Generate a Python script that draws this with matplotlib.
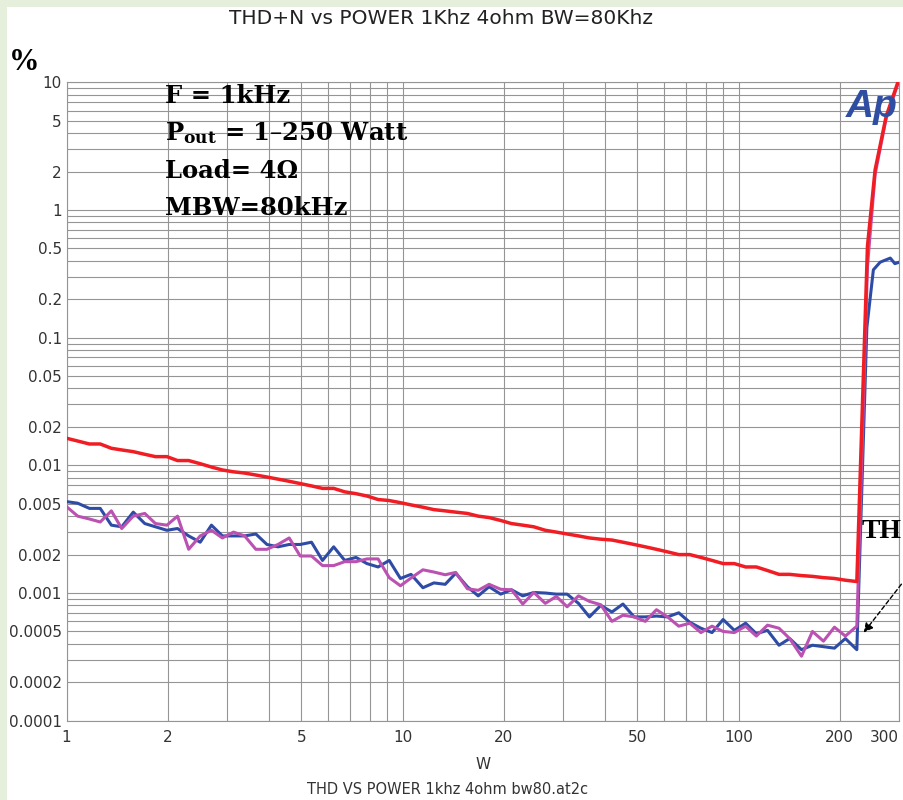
import matplotlib.pyplot as plt
from matplotlib.patches import Rectangle
from matplotlib.ticker import FixedLocator, NullFormatter

# SWEEP POINTS (W) - shared by all three traces up to the clip point

watts = [1.00, 1.08, 1.17, 1.26, 1.36, 1.46, 1.58, 1.71, 1.84, 1.99,
         2.14, 2.31, 2.50, 2.70, 2.91, 3.14, 3.39, 3.66, 3.95, 4.26,
         4.60, 4.96, 5.36, 5.78, 6.24, 6.73, 7.27, 7.84, 8.46, 9.13,
         9.86, 10.6, 11.5, 12.4, 13.4, 14.4, 15.6, 16.8, 18.1, 19.6,
         21.1, 22.8, 24.6, 26.6, 28.7, 30.9, 33.4, 36.0, 38.9, 42.0,
         45.3, 48.9, 52.8, 57.0, 61.5, 66.4, 71.6, 77.3, 83.4, 90.0,
         97.2, 105, 113, 122, 132, 142, 154, 166, 179, 193,
         208, 225]

# THD+N in %

red = [0.0163, 0.0155, 0.0147, 0.0147, 0.0136, 0.0132, 0.0128, 0.0122, 0.0117, 0.0117,
       0.0109, 0.0109, 0.0103, 0.0097, 0.0092, 0.0089, 0.0087, 0.0084, 0.0081, 0.0078,
       0.0075, 0.0072, 0.0069, 0.0066, 0.0066, 0.0062, 0.0060, 0.00575, 0.0054, 0.0053,
       0.0051, 0.0049, 0.0047, 0.0045, 0.0044, 0.0043, 0.0042, 0.0040, 0.0039, 0.0037,
       0.0035, 0.0034, 0.0033, 0.0031, 0.0030, 0.0029, 0.0028, 0.0027, 0.00264, 0.0026,
       0.0025, 0.0024, 0.0023, 0.0022, 0.0021, 0.0020, 0.0020, 0.0019, 0.0018, 0.0017,
       0.0017, 0.0016, 0.0016, 0.0015, 0.0014, 0.0014, 0.00137, 0.00135, 0.00132, 0.0013,
       0.00126, 0.00123]

blue = [0.0052, 0.00505, 0.0046, 0.0046, 0.0034, 0.0033, 0.0043, 0.0035, 0.0033, 0.0031,
        0.0032, 0.0028, 0.0025, 0.0034, 0.0028, 0.0028, 0.0028, 0.0029, 0.0024, 0.0023,
        0.0024, 0.0024, 0.0025, 0.0018, 0.0023, 0.0018, 0.0019, 0.0017, 0.0016, 0.0018,
        0.0013, 0.0014, 0.0011, 0.0012, 0.00117, 0.00143, 0.00112, 0.00095, 0.00112, 0.00098,
        0.00106, 0.00095, 0.00101, 0.0010, 0.00098, 0.00098, 0.00083, 0.00065, 0.0008, 0.00071,
        0.00082, 0.00065, 0.00065, 0.00066, 0.00065, 0.0007, 0.00059, 0.00053, 0.00049, 0.00062,
        0.00051, 0.00058, 0.00048, 0.00051, 0.00039, 0.00044, 0.00036, 0.00039, 0.00038, 0.00037,
        0.00044, 0.00036]

magenta = [0.00475, 0.0040, 0.0038, 0.0036, 0.0044, 0.0032, 0.0040, 0.0042, 0.0035, 0.0034,
           0.0040, 0.0022, 0.0028, 0.0031, 0.0027, 0.0030, 0.0028, 0.0022, 0.0022, 0.0024,
           0.0027, 0.00195, 0.00195, 0.00164, 0.00164, 0.00176, 0.00176, 0.00185, 0.00185, 0.00132,
           0.00114, 0.00131, 0.00152, 0.00146, 0.00139, 0.00145, 0.00108, 0.00105, 0.00117, 0.00107,
           0.00106, 0.00082, 0.00101, 0.00083, 0.00094, 0.00078, 0.00095, 0.00086, 0.00081, 0.00060,
           0.00067, 0.00065, 0.00060, 0.00074, 0.00065, 0.00055, 0.00058, 0.00049, 0.00055, 0.00050,
           0.00049, 0.00055, 0.00046, 0.00056, 0.00053, 0.00044, 0.00032, 0.00050, 0.00042, 0.00054,
           0.00046, 0.00055]

# clipping region (above ~225 W)

red_tail_w = [242, 255, 275, 300]
red_tail = [0.52, 2.06, 5.4, 10.5]

blue_tail_w = [241, 252, 264, 283, 292, 301]
blue_tail = [0.12, 0.34, 0.39, 0.42, 0.38, 0.39]

magenta_tail_w = [242, 255, 275, 300]
magenta_tail = [0.36, 1.9, 5.2, 10.2]

x_ticks = [1, 2, 5, 10, 20, 50, 100, 200, 300]
x_minor = [3, 4, 6, 7, 8, 9, 30, 40, 60, 70, 80, 90]
y_ticks = [10, 5, 2, 1, 0.5, 0.2, 0.1, 0.05, 0.02, 0.01,
           0.005, 0.002, 0.001, 0.0005, 0.0002, 0.0001]
y_labels = ['10', '5', '2', '1', '0.5', '0.2', '0.1', '0.05', '0.02', '0.01',
            '0.005', '0.002', '0.001', '0.0005', '0.0002', '0.0001']

W, H = 904, 800

fig = plt.figure(figsize=(W/100, H/100), dpi=100, facecolor='#e6eedc')
fig.add_artist(Rectangle((7/W, 0), 1, 1 - 7/H, transform=fig.transFigure,
                         facecolor='white', edgecolor='none', zorder=-10))

ax = fig.add_axes([66.5/W, 1 - 720.7/H, (899.3 - 66.5)/W, (720.7 - 82.3)/H])
ax.set_xscale('log')
ax.set_yscale('log')
ax.set_xlim(1, 301)
ax.set_ylim(1e-4, 10)

#TRACES

ax.plot(watts + blue_tail_w, blue + blue_tail, color='#2e4ca6', lw=2.2, zorder=3)
ax.plot(watts + magenta_tail_w, magenta + magenta_tail, color='#bb52b2', lw=2.2, zorder=4)
ax.plot(watts + red_tail_w, red + red_tail, color='#f01e24', lw=2.5, zorder=5)

#GRID / TICKS

ax.xaxis.set_major_locator(FixedLocator(x_ticks))
ax.xaxis.set_minor_locator(FixedLocator(x_minor))
ax.xaxis.set_minor_formatter(NullFormatter())
ax.set_xticklabels([str(v) for v in x_ticks])
ax.get_xticklabels()[-1].set_horizontalalignment('right')

minor_y = [m * 10.0**e for e in range(-4, 1) for m in (3, 4, 6, 7, 8, 9)]
ax.yaxis.set_major_locator(FixedLocator(y_ticks))
ax.yaxis.set_minor_locator(FixedLocator(minor_y))
ax.yaxis.set_minor_formatter(NullFormatter())
ax.set_yticklabels(y_labels)

ax.grid(True, which='both', color='#959595', lw=0.8)
ax.tick_params(which='both', length=0, labelsize=11, colors='#333333')
ax.tick_params(axis='y', pad=3.5)
ax.tick_params(axis='x', pad=7)
for s in ax.spines.values():
    s.set_color('#959595')
    s.set_linewidth(0.8)

ax.set_xlabel('W', fontsize=11, color='#333333', labelpad=8)

#TEXTS

fig.text(441/W, 1 - 18/H, 'THD+N vs POWER 1Khz 4ohm BW=80Khz',
         ha='center', va='center', fontsize=14.5, color='#222222')
fig.text(448/W, 1 - 789/H, 'THD VS POWER 1khz 4ohm bw80.at2c',
         ha='center', va='center', fontsize=10.5, color='#333333')

fig.text(9/W, 1 - 70/H, '%', fontsize=22, fontweight='bold',
         family='Liberation Serif', va='baseline')

plt.rcParams['mathtext.fontset'] = 'dejavuserif'
info = ['F = 1kHz', r'$\mathbf{P}_{\mathbf{out}}$ = 1–250 Watt',
        'Load= 4Ω', 'MBW=80kHz']
baselines = [103, 140, 178, 215]
for line, yb in zip(info, baselines):
    fig.text(165/W, 1 - yb/H, line, fontsize=17.5, fontweight='bold',
             family='DejaVu Serif', va='baseline')

fig.text(846/W, 1 - 117/H, 'Ap', fontsize=28, fontweight='bold', style='italic',
         family='Liberation Sans', color='#2f4ea2', va='baseline', zorder=6)

# label at the right edge, only its first letters are visible in the reference
fig.text(902/W, 1 - 538/H, 'TH', fontsize=20, fontweight='bold',
         family='Liberation Serif', va='baseline', ha='right')

ax.annotate('', xy=(233, 0.00047), xytext=(309, 0.00122),
            arrowprops=dict(arrowstyle='-|>', linestyle=(0, (3, 2)), color='black',
                            lw=1.0, mutation_scale=14),
            annotation_clip=False, zorder=7)

fig.savefig('out.png', dpi=100, facecolor=fig.get_facecolor())
